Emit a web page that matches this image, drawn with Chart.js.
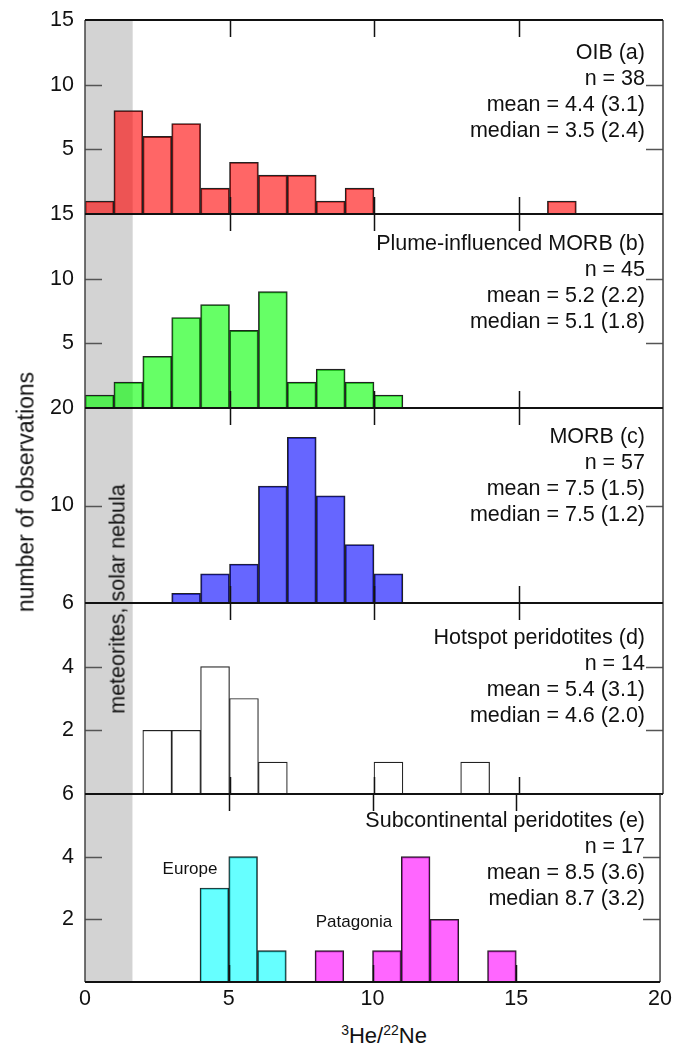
<!DOCTYPE html>
<html>
<head>
<meta charset="utf-8">
<script src="https://cdn.jsdelivr.net/npm/chart.js@4.4.1/dist/chart.umd.min.js"></script>
<style>
  body { margin: 0; background: #fff; }
  #fig { position: relative; width: 676px; height: 1049px; overflow: hidden; font-family: 'Liberation Sans', Arial, sans-serif; color: #111; }
  canvas { position: absolute; left: 0; }
  .note { position: absolute; right: 31px; text-align: right; font-size: 21.5px; line-height: 26px; white-space: nowrap; }
  .rot { position: absolute; transform: translate(-50%, -50%) rotate(-90deg); white-space: nowrap; }
  .tag { position: absolute; transform: translate(-50%, -50%); font-size: 17px; white-space: nowrap; }
  .sup { font-size: 14px; position: relative; top: -8px; }
</style>
</head>
<body>
<div id="fig">
  <canvas id="panelA"></canvas>
  <canvas id="panelB"></canvas>
  <canvas id="panelC"></canvas>
  <canvas id="panelD"></canvas>
  <canvas id="panelE"></canvas>

  <div class="note" style="top:39px">OIB (a)<br>n = 38<br>mean = 4.4 (3.1)<br>median = 3.5 (2.4)</div>
  <div class="note" style="top:230px">Plume-influenced MORB (b)<br>n = 45<br>mean = 5.2 (2.2)<br>median = 5.1 (1.8)</div>
  <div class="note" style="top:423px">MORB (c)<br>n = 57<br>mean = 7.5 (1.5)<br>median = 7.5 (1.2)</div>
  <div class="note" style="top:624px">Hotspot peridotites (d)<br>n = 14<br>mean = 5.4 (3.1)<br>median = 4.6 (2.0)</div>
  <div class="note" style="top:807px">Subcontinental peridotites (e)<br>n = 17<br>mean = 8.5 (3.6)<br>median 8.7 (3.2)</div>

  <div class="rot" style="left:26px; top:492px; font-size:23px;">number of observations</div>
  <div class="rot" style="left:118px; top:599px; font-size:21.5px;">meteorites, solar nebula</div>
  <div class="tag" style="left:190px; top:869px;">Europe</div>
  <div class="tag" style="left:354px; top:922px;">Patagonia</div>
  <div style="position:absolute; left:384px; top:1036px; transform:translate(-50%,-50%); font-size:22px; white-space:nowrap;"><span class="sup">3</span>He/<span class="sup">22</span>Ne</div>
</div>

<script>
// bin centres of the 3He/22Ne histograms (bin width 1)
const BIN_CENTERS = [0.5, 1.5, 2.5, 3.5, 4.5, 5.5, 6.5, 7.5, 8.5, 9.5,
                     10.5, 11.5, 12.5, 13.5, 14.5, 15.5, 16.5, 17.5, 18.5, 19.5];

// counts per bin
const OIB_COUNTS       = [1, 8, 6, 7, 2, 4, 3, 3, 1, 2, 0, 0, 0, 0, 0, 0, 1, 0, 0, 0];
const PLUME_COUNTS     = [1, 2, 4, 7, 8, 6, 9, 2, 3, 2, 1, 0, 0, 0, 0, 0, 0, 0, 0, 0];
const MORB_COUNTS      = [0, 0, 0, 1, 3, 4, 12, 17, 11, 6, 3, 0, 0, 0, 0, 0, 0, 0, 0, 0];
const HOTSPOT_COUNTS   = [0, 0, 2, 2, 4, 3, 1, 0, 0, 0, 1, 0, 0, 1, 0, 0, 0, 0, 0, 0];
const EUROPE_COUNTS    = [0, 0, 0, 0, 3, 4, 1, 0, 0, 0, 0, 0, 0, 0, 0, 0, 0, 0, 0, 0];
const PATAGONIA_COUNTS = [0, 0, 0, 0, 0, 0, 0, 0, 1, 0, 1, 4, 2, 0, 1, 0, 0, 0, 0, 0];

// axes
const X_MIN = 0;
const X_MAX = 20;
const X_STEP = 5;
const SOLAR_LIMIT = 1.65; // meteorites / solar nebula band

Chart.defaults.font.family = "'Liberation Sans', Arial, sans-serif";
Chart.defaults.color = '#111';

function toPoints(counts) {
  return counts.map((c, i) => ({ x: BIN_CENTERS[i], y: c > 0 ? c : null }));
}

const framePlugin = {
  id: 'frame',
  beforeDatasetsDraw(chart) {
    const { ctx, chartArea: area, scales: { x } } = chart;
    const x1 = x.getPixelForValue(SOLAR_LIMIT);
    ctx.save();
    ctx.fillStyle = '#d3d3d3';
    ctx.fillRect(area.left, area.top, x1 - area.left, area.bottom - area.top);
    ctx.restore();
  },
  afterDatasetsDraw(chart) {
    const { ctx, chartArea: area, scales: { x, y } } = chart;
    const tickLen = 17;
    ctx.save();

    // inward x ticks, top and bottom
    ctx.strokeStyle = '#111';
    ctx.lineWidth = 1.5;
    x.ticks.forEach((t) => {
      if (t.value <= X_MIN || t.value >= X_MAX) return;
      const px = Math.round(x.getPixelForValue(t.value)) + 0.5;
      ctx.beginPath();
      ctx.moveTo(px, area.top);
      ctx.lineTo(px, area.top + tickLen);
      ctx.moveTo(px, area.bottom);
      ctx.lineTo(px, area.bottom - tickLen);
      ctx.stroke();
    });

    // inward y ticks, left and right
    ctx.strokeStyle = '#555';
    y.ticks.forEach((t) => {
      if (t.value <= y.min || t.value >= y.max) return;
      const py = Math.round(y.getPixelForValue(t.value)) + 0.5;
      ctx.beginPath();
      ctx.moveTo(area.left, py);
      ctx.lineTo(area.left + tickLen, py);
      ctx.moveTo(area.right, py);
      ctx.lineTo(area.right - tickLen, py);
      ctx.stroke();
    });

    // side borders
    ctx.strokeStyle = '#444';
    ctx.lineWidth = 1.5;
    ctx.beginPath();
    ctx.moveTo(area.left, area.top);
    ctx.lineTo(area.left, area.bottom);
    ctx.moveTo(area.right, area.top);
    ctx.lineTo(area.right, area.bottom);
    ctx.stroke();

    // top and bottom borders
    ctx.strokeStyle = '#111';
    ctx.lineWidth = 2;
    ctx.beginPath();
    ctx.moveTo(area.left, area.top);
    ctx.lineTo(area.right, area.top);
    ctx.moveTo(area.left, area.bottom);
    ctx.lineTo(area.right, area.bottom);
    ctx.stroke();
    ctx.restore();
  }
};

function makePanel(id, top, bottom, yMax, yStep, datasets, showX) {
  const canvas = document.getElementById(id);
  const padTop = 28;
  const xAxisHeight = showX ? 36 : 0;
  const padBottom = showX ? 0 : 28;
  canvas.width = 676;
  canvas.height = padTop + (bottom - top) + xAxisHeight + padBottom;
  canvas.style.top = (top - padTop) + 'px';

  return new Chart(canvas.getContext('2d'), {
    type: 'bar',
    data: { datasets },
    options: {
      responsive: false,
      animation: false,
      layout: { padding: { left: 0, right: 13, top: padTop, bottom: padBottom } },
      plugins: { legend: { display: false }, tooltip: { enabled: false } },
      datasets: { bar: { barPercentage: 1, categoryPercentage: 1, borderWidth: 1.2, borderColor: '#222', grouped: false } },
      scales: {
        x: {
          type: 'linear',
          min: X_MIN,
          max: X_MAX,
          offset: false,
          display: showX,
          grid: { display: false, drawTicks: false },
          border: { display: false },
          ticks: { stepSize: X_STEP, padding: 4, font: { size: 21.5 }, color: '#111', maxRotation: 0 },
          afterFit: (scale) => { if (showX) scale.height = xAxisHeight; }
        },
        y: {
          min: 0,
          max: yMax,
          grid: { display: false, drawTicks: false },
          border: { display: false },
          ticks: {
            stepSize: yStep,
            padding: 11,
            font: { size: 21.5 },
            color: '#111',
            callback: (v) => (v === 0 ? '' : v)
          },
          afterFit: (scale) => { scale.width = 85; }
        }
      }
    },
    plugins: [framePlugin]
  });
}

makePanel('panelA', 20, 214, 15, 5, [
  { data: toPoints(OIB_COUNTS), backgroundColor: 'rgba(255, 0, 0, 0.6)' }
], false);

makePanel('panelB', 214, 408, 15, 5, [
  { data: toPoints(PLUME_COUNTS), backgroundColor: 'rgba(0, 255, 0, 0.6)' }
], false);

makePanel('panelC', 408, 603, 20, 10, [
  { data: toPoints(MORB_COUNTS), backgroundColor: 'rgba(0, 0, 255, 0.6)' }
], false);

makePanel('panelD', 603, 794, 6, 2, [
  { data: toPoints(HOTSPOT_COUNTS), backgroundColor: '#ffffff' }
], false);

makePanel('panelE', 794, 982, 6, 2, [
  { data: toPoints(EUROPE_COUNTS), backgroundColor: 'rgba(0, 255, 255, 0.6)' },
  { data: toPoints(PATAGONIA_COUNTS), backgroundColor: 'rgba(255, 0, 255, 0.6)' }
], true);
</script>
</body>
</html>
